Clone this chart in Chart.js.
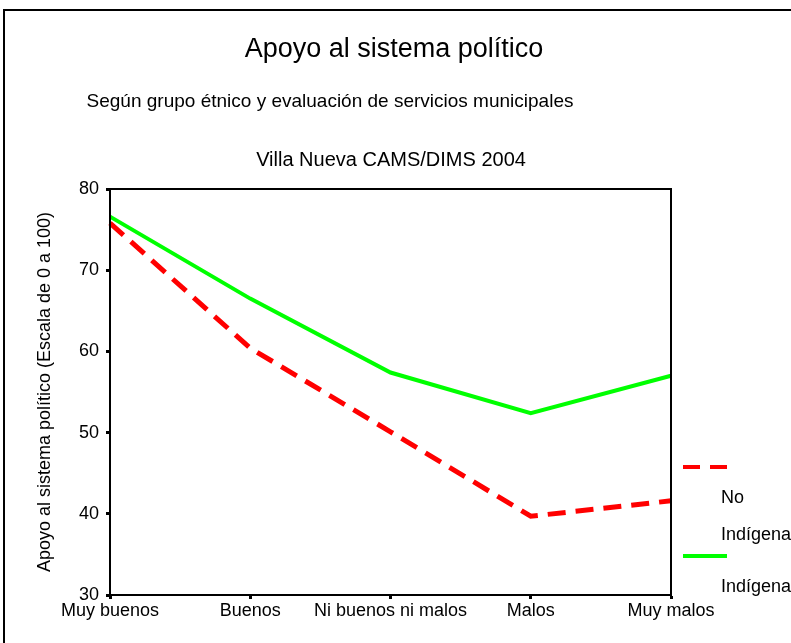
<!DOCTYPE html>
<html>
<head>
<meta charset="utf-8">
<script src="https://cdn.jsdelivr.net/npm/chart.js@4/dist/chart.umd.min.js"></script>
<style>
    html, body { margin: 0; padding: 0; background: #fff; }
    #wrap { position: relative; width: 791px; height: 643px; }
</style>
</head>
<body>
<div id="wrap"><canvas id="chart"></canvas></div>
<script>
// Datos
const categorias = ['Muy buenos', 'Buenos', 'Ni buenos ni malos', 'Malos', 'Muy malos'];
const noIndigena = [75.8, 60.4, 50.1, 39.7, 41.6];
const indigena = [76.6, 66.5, 57.4, 52.4, 57.0];
const ejeY = { min: 30, max: 80, paso: 10 };

const fuente = '"Liberation Sans", Arial, sans-serif';
const rojo = '#ff0000';
const verde = '#00ff00';

// Títulos, marco y leyenda dibujados a mano
const decoracion = {
    id: 'decoracion',
    afterDraw(chart) {
        const ctx = chart.ctx;
        const a = chart.chartArea;
        ctx.save();

        // marco exterior (sin lado derecho)
        ctx.strokeStyle = '#000';
        ctx.lineWidth = 2;
        ctx.beginPath();
        ctx.moveTo(4, 660);
        ctx.lineTo(4, 10);
        ctx.lineTo(800, 10);
        ctx.stroke();

        // caja del gráfico
        ctx.strokeRect(a.left, a.top, a.right - a.left, a.bottom - a.top);

        // títulos
        ctx.fillStyle = '#000';
        ctx.textAlign = 'center';
        ctx.textBaseline = 'alphabetic';
        ctx.font = '27px ' + fuente;
        ctx.fillText('Apoyo al sistema político', 394, 57);
        ctx.font = '19px ' + fuente;
        ctx.fillText('Según grupo étnico y evaluación de servicios municipales', 330, 107);
        ctx.font = '20px ' + fuente;
        ctx.fillText('Villa Nueva CAMS/DIMS 2004', 391, 166);

        // leyenda
        ctx.lineWidth = 4;
        ctx.strokeStyle = rojo;
        ctx.setLineDash([17, 10]);
        ctx.beginPath();
        ctx.moveTo(683, 467);
        ctx.lineTo(727, 467);
        ctx.stroke();
        ctx.setLineDash([]);
        ctx.strokeStyle = verde;
        ctx.beginPath();
        ctx.moveTo(683, 556);
        ctx.lineTo(727, 556);
        ctx.stroke();

        ctx.font = '18px ' + fuente;
        ctx.textAlign = 'left';
        ctx.textBaseline = 'middle';
        ctx.fillText('No', 721, 498);
        ctx.fillText('Indígena', 721, 535);
        ctx.fillText('Indígena', 721, 587);
        ctx.restore();
    }
};

new Chart(document.getElementById('chart').getContext('2d'), {
    type: 'line',
    data: {
        labels: categorias,
        datasets: [{
            label: 'No Indígena',
            data: noIndigena,
            borderColor: rojo,
            borderWidth: 5,
            borderDash: [18, 10],
            pointRadius: 0,
            tension: 0,
            fill: false
        }, {
            label: 'Indígena',
            data: indigena,
            borderColor: verde,
            borderWidth: 4,
            pointRadius: 0,
            tension: 0,
            fill: false
        }]
    },
    options: {
        responsive: true,
        maintainAspectRatio: false,
        animation: false,
        layout: { padding: { top: 189, right: 120, bottom: 0, left: 28 } },
        plugins: {
            legend: { display: false },
            tooltip: { enabled: false }
        },
        scales: {
            x: {
                offset: false,
                grid: { drawOnChartArea: false, tickLength: 4, tickWidth: 3, tickColor: '#000' },
                border: { color: '#000', width: 2 },
                ticks: { color: '#000', font: { family: fuente, size: 18 }, padding: 1, maxRotation: 0, autoSkip: false },
                afterFit(scale) { scale.height = 48; }
            },
            y: {
                min: ejeY.min,
                max: ejeY.max,
                grid: { drawOnChartArea: false, tickLength: 4, tickWidth: 3, tickColor: '#000' },
                border: { color: '#000', width: 2 },
                ticks: { stepSize: ejeY.paso, color: '#000', font: { family: fuente, size: 18 }, padding: 7 },
                title: {
                    display: true,
                    text: 'Apoyo al sistema político (Escala de 0 a 100)',
                    color: '#000',
                    font: { family: fuente, size: 18 },
                    padding: { top: 6, bottom: 0 }
                },
                afterFit(scale) { scale.width = 82; }
            }
        }
    },
    plugins: [decoracion]
});
</script>
</body>
</html>
